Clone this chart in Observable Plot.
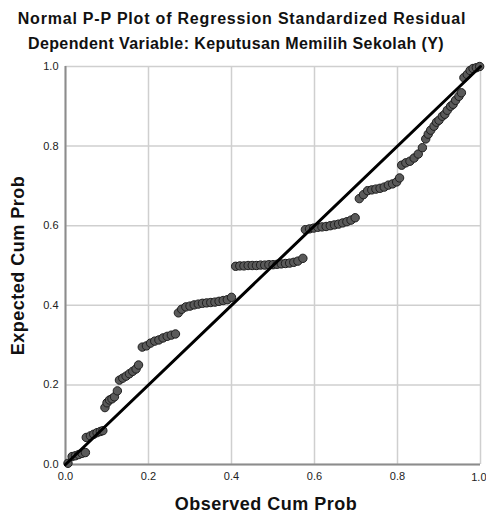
<!DOCTYPE html>
<html>
<head>
<meta charset="utf-8">
<script src="https://cdn.jsdelivr.net/npm/d3@7"></script>
<script src="https://cdn.jsdelivr.net/npm/@observablehq/plot@0.6"></script>
<style>
  html, body { margin: 0; padding: 0; background: #fff; }
</style>
</head>
<body>
<div id="chart"></div>
<script>
const title = "Normal P-P Plot of Regression Standardized Residual";
const subtitle = "Dependent Variable: Keputusan Memilih Sekolah (Y)";
const xLabel = "Observed Cum Prob";
const yLabel = "Expected Cum Prob";
const tickValues = [0, 0.2, 0.4, 0.6, 0.8, 1.0];
const refLine = [0, 1];

const observed = [
  0.006, 0.016, 0.024, 0.032, 0.040, 0.048,
  0.050, 0.060, 0.068, 0.076, 0.084, 0.090,
  0.095, 0.100, 0.106, 0.112, 0.118, 0.125,
  0.130, 0.138, 0.146, 0.154, 0.162, 0.170, 0.176,
  0.185, 0.195, 0.205, 0.215, 0.225, 0.235, 0.245, 0.255, 0.265,
  0.272, 0.280, 0.290, 0.300, 0.310, 0.320, 0.330, 0.340, 0.350, 0.360, 0.370, 0.380, 0.390, 0.400,
  0.410, 0.420, 0.430, 0.440, 0.450, 0.460, 0.470, 0.480, 0.490, 0.500, 0.510, 0.520, 0.530, 0.540, 0.550, 0.560, 0.572,
  0.578, 0.588, 0.598, 0.608, 0.618, 0.628, 0.638, 0.648, 0.658, 0.668, 0.678, 0.688, 0.698,
  0.708, 0.718, 0.728, 0.738, 0.748, 0.758, 0.768, 0.778, 0.788, 0.798, 0.805,
  0.810, 0.820, 0.830, 0.840, 0.850, 0.860,
  0.868, 0.874, 0.880, 0.888, 0.894, 0.900, 0.908, 0.914, 0.920, 0.928, 0.934, 0.940, 0.948, 0.954,
  0.960, 0.968, 0.975, 0.982, 0.990, 0.998
];
const expected = [
  0.003, 0.020, 0.022, 0.025, 0.028, 0.030,
  0.068, 0.072, 0.076, 0.080, 0.083, 0.085,
  0.143, 0.155, 0.162, 0.165, 0.170, 0.185,
  0.212, 0.217, 0.222, 0.228, 0.234, 0.240, 0.250,
  0.295, 0.298, 0.305, 0.310, 0.313, 0.318, 0.322, 0.325, 0.328,
  0.381, 0.390, 0.396, 0.398, 0.401, 0.403, 0.405, 0.406, 0.407, 0.408, 0.410, 0.412, 0.414, 0.420,
  0.498, 0.499, 0.499, 0.500, 0.500, 0.500, 0.501, 0.501, 0.502, 0.502, 0.503, 0.504, 0.505, 0.506, 0.508, 0.511, 0.518,
  0.590, 0.592, 0.594, 0.596, 0.597, 0.598, 0.600, 0.602, 0.604, 0.607, 0.610, 0.614, 0.620,
  0.668, 0.678, 0.688, 0.690, 0.692, 0.694, 0.697, 0.702, 0.705, 0.710, 0.720,
  0.752, 0.758, 0.762, 0.770, 0.780, 0.796,
  0.818, 0.830, 0.840, 0.850, 0.860, 0.865, 0.875, 0.880, 0.890, 0.900, 0.905, 0.915, 0.925, 0.934,
  0.972, 0.980, 0.990, 0.995, 0.997, 1.000
];

const points = observed.map((x, i) => ({x, y: expected[i]}));
const font = "'Liberation Sans', Arial, sans-serif";
const fmt = d3.format(".1f");
const lastTick = tickValues[tickValues.length - 1];

const chart = Plot.plot({
  width: 486,
  height: 515,
  marginLeft: 65,
  marginRight: 6,
  marginTop: 66,
  marginBottom: 51,
  style: {fontFamily: font, fontSize: "11px", color: "#222", background: "#fff"},
  x: {domain: [0, 1], ticks: tickValues.slice(0, -1), tickFormat: fmt, tickSize: 0, tickPadding: 8, label: null},
  y: {domain: [0, 1], ticks: tickValues, tickFormat: fmt, tickSize: 0, tickPadding: 7, label: null},
  marks: [
    Plot.ruleX(tickValues, {stroke: "#cfcfcf", strokeWidth: 1.5}),
    Plot.ruleY(tickValues, {stroke: "#cfcfcf", strokeWidth: 1.5}),
    Plot.ruleX([0], {stroke: "#8c8c8c", strokeWidth: 2}),
    Plot.ruleY([0], {stroke: "#8c8c8c", strokeWidth: 2}),
    Plot.dot(points, {x: "x", y: "y", r: 4.2, fill: "#5a5a5a", stroke: "#1e1e1e", strokeWidth: 1}),
    Plot.line(refLine, {x: d => d, y: d => d, stroke: "#000", strokeWidth: 3}),
    Plot.text([lastTick], {x: d => d, frameAnchor: "bottom", text: d => fmt(d), textAnchor: "end", lineAnchor: "middle", dx: 6, dy: 13, fontSize: 11, fill: "#222"}),
    Plot.text([title], {frameAnchor: "top", text: d => d, lineAnchor: "middle", textAnchor: "middle", dy: -47.5, dx: -31, fontSize: 16, fontWeight: "bold", fill: "#111", style: "letter-spacing:0.8px"}),
    Plot.text([subtitle], {frameAnchor: "top", text: d => d, lineAnchor: "middle", textAnchor: "middle", dy: -23, dx: -37, fontSize: 16, fontWeight: "bold", fill: "#111"}),
    Plot.text([yLabel], {frameAnchor: "left", text: d => d, rotate: -90, lineAnchor: "middle", textAnchor: "middle", dx: -47, fontSize: 18, fontWeight: "bold", fill: "#111"}),
    Plot.text([xLabel], {frameAnchor: "bottom", text: d => d, lineAnchor: "middle", textAnchor: "middle", dy: 40, dx: -7, fontSize: 18, fontWeight: "bold", fill: "#111"})
  ]
});
// letter spacing for the title texts
chart.querySelectorAll("text").forEach(t => {
  if (t.textContent === title) t.setAttribute("letter-spacing", "0.8");
  if (t.textContent === subtitle) t.setAttribute("letter-spacing", "0.4");
  if (t.textContent === xLabel || t.textContent === yLabel) t.setAttribute("letter-spacing", "0.5");
});
document.getElementById("chart").appendChild(chart);
</script>
</body>
</html>
